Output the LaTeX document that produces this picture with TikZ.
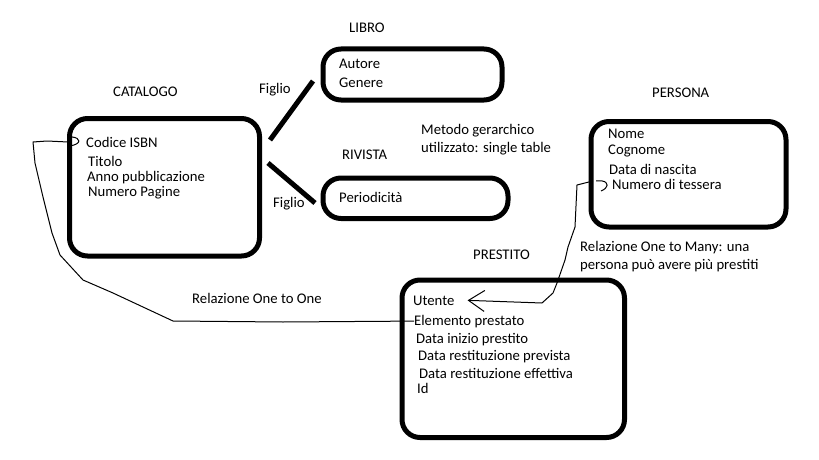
\documentclass[tikz,border=0pt]{standalone}
\usepackage{fontspec}
\setmainfont{Carlito}
\usetikzlibrary{arrows.meta}

\begin{document}
\begin{tikzpicture}[x=1pt, y=-1pt, font={\fontsize{14.7}{17}\selectfont}]
  \tikzstyle{entity} = [draw, line width=5pt, rounded corners=18pt, inner sep=0pt]
  \tikzstyle{title} = [anchor=base west, inner sep=0pt]
  \tikzstyle{field} = [anchor=base west, inner sep=0pt]
  \tikzstyle{figlioEdge} = [black, line width=5pt];
  \tikzstyle{relEdge} = [black, line width=1pt, line join=round];
  \tikzstyle{barb} = [{Straight Barb[length=16pt, width=21pt]}-];

  \useasboundingbox (0,0) rectangle (819,460);

  \node[entity, minimum width=190pt, minimum height=137.5pt] (catalogo) at (164.5,187.25) {};
  \node[entity, minimum width=179pt, minimum height=51pt]    (libro)    at (412.5,74.5) {};
  \node[entity, minimum width=185pt, minimum height=40.5pt]  (rivista)  at (415.5,198.25) {};
  \node[entity, minimum width=195pt, minimum height=105.5pt] (persona)  at (688.5,174.25) {};
  \node[entity, minimum width=222.5pt, minimum height=157.5pt] (prestito) at (513.25,358.75) {};

  \node[title] (catalogoT) at (113,96) {CATALOGO};
  \node[title] (libroT)    at (349,33) {LIBRO};
  \node[title] (rivistaT)  at (342,159) {RIVISTA};
  \node[title] (personaT)  at (652,97) {PERSONA};
  \node[title] (prestitoT) at (473,259) {PRESTITO};

  \node[field] (codice) at (86,147) {Codice ISBN};
  \node[field] (titolo) at (88,166) {Titolo};
  \node[field] (anno)   at (87,181) {Anno pubblicazione};
  \node[field] (pagine) at (88,196) {Numero Pagine};

  \node[field] (autore) at (339,68) {Autore};
  \node[field] (genere) at (339,87) {Genere};
  \node[field] (periodicita) at (339,202) {Periodicità};

  \node[field] (nome)    at (608,138) {Nome};
  \node[field] (cognome) at (608,154) {Cognome};
  \node[field] (nascita) at (609,174) {Data di nascita};
  \node[field] (tessera) at (612,189) {Numero di tessera};

  \node[field] (utente)     at (413,305) {Utente};
  \node[field] (elemento)   at (414,325) {Elemento prestato};
  \node[field] (inizio)     at (416,343) {Data inizio prestito};
  \node[field] (prevista)   at (418,360) {Data restituzione prevista};
  \node[field] (effettiva)  at (419,378) {Data restituzione effettiva};
  \node[field] (id)         at (417,393) {Id};

  \node[title] (figlioA) at (259,93) {Figlio};
  \node[title] (figlioB) at (273,207) {Figlio};
  \node[title] (metodo) at (421,134) {Metodo gerarchico};
  \node[title] (metodoB) at (421,152) {utilizzato: single table};
  \node[title] (oneMany) at (580,251) {Relazione One to Many: una};
  \node[title] (oneManyB) at (580,269) {persona può avere più prestiti};
  \node[title] (oneOne) at (192,303) {Relazione One to One};

  \coordinate (figlioA1) at (270,140);
  \coordinate (figlioA2) at (313,81);
  \coordinate (figlioB1) at (268,163);
  \coordinate (figlioB2) at (315,203);
  \draw[figlioEdge] (figlioA1) -- (figlioA2);
  \draw[figlioEdge] (figlioB1) -- (figlioB2);

  \draw[relEdge] (elemento.west) -- (283,322) -- (173,321) -- (113,293) -- (83,280)
    -- (60,255) -- (52,233) -- (43,197) -- (35,163) -- (33,142) -- (47,141)
    -- ([shift={(-19,0)}]codice.west);
  \draw[relEdge] ([shift={(-14,-5)}]codice.west) .. controls ([shift={(-5,-4)}]codice.west)
    and ([shift={(-4,2)}]codice.west) .. ([shift={(-16,4)}]codice.west);

  \draw[relEdge, barb] ([xshift=13pt]utente.east) -- (542,303) -- (553,293) -- (557,283)
    -- (565,260) -- (568,247) -- (575,227) -- (577,185) -- ([shift={(-19,-3)}]tessera.west);
  \draw[relEdge] ([shift={(-16,-3)}]tessera.west) -- ([shift={(-10,-3)}]tessera.west)
    .. controls ([shift={(-3,-2)}]tessera.west) and ([shift={(-3,4)}]tessera.west)
    .. ([shift={(-11,7)}]tessera.west);
\end{tikzpicture}
\end{document}
